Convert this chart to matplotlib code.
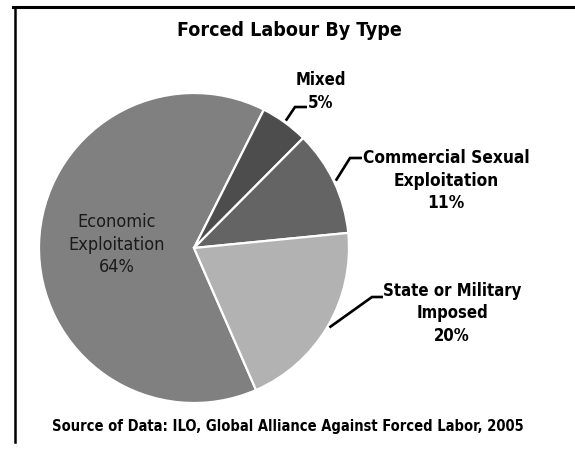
import matplotlib
matplotlib.use("Agg")
import matplotlib.pyplot as plt
from matplotlib.lines import Line2D
import numpy as np

# ---- data ----
categories = ["Economic Exploitation", "Mixed", "Commercial Sexual Exploitation", "State or Military Imposed"]
values = [64, 5, 11, 20]
label_lines = [["Economic", "Exploitation"], ["Mixed"], ["Commercial Sexual", "Exploitation"], ["State or Military", "Imposed"]]
title = "Forced Labour By Type"
source = "Source of Data: ILO, Global Alliance Against Forced Labor, 2005"

# ---- style / layout ----
colors = ["#808080", "#4d4d4d", "#646464", "#b2b2b2"]
W, H = 575, 453
FONT = "DejaVu Sans"
STRETCH = "condensed"

fig = plt.figure(figsize=(W / 100, H / 100), dpi=100)
ax = fig.add_axes([0, 0, 1, 1])

cx, cy, R = 194, H - 248, 155
wedges, _ = ax.pie(values, colors=colors, startangle=-66.4, counterclock=False,
                   center=(cx, cy), radius=R, frame=True,
                   wedgeprops=dict(edgecolor="white", linewidth=1.6))
ax.set_xlim(0, W)
ax.set_ylim(0, H)
ax.set_aspect("equal")
ax.axis("off")

# label layout: (center x, first line y in pixels from top, bold, leader elbow, leader end)
layout = [
    dict(x=117, y=222, bold=False, size=13, leader=None),
    dict(x=321, y=80, bold=True, size=12, leader=((295, 107), (307, 107))),
    dict(x=446, y=158, bold=True, size=12.4, leader=((350, 158), (362, 158))),
    dict(x=452, y=291, bold=True, size=12, leader=((372, 297), (383, 297))),
]
step = 22.5
for w, v, lines, lay in zip(wedges, values, label_lines, layout):
    txt = lines + [f"{v}%"]
    for k, s in enumerate(txt):
        ax.text(lay["x"], H - (lay["y"] + k * step), s, ha="center", va="center",
                fontsize=lay["size"], family=FONT, stretch=STRETCH,
                fontweight="bold" if lay["bold"] else "normal",
                color="black" if lay["bold"] else "#1a1a1a")
    if lay["leader"] is not None:
        mid = np.deg2rad((w.theta1 + w.theta2) / 2)
        sx, sy = cx + (R + 2) * np.cos(mid), cy + (R + 2) * np.sin(mid)
        (ex, ey), (fx, fy) = lay["leader"]
        ax.plot([sx, ex, fx], [sy, H - ey, H - fy], color="black", lw=1.9,
                solid_capstyle="butt", solid_joinstyle="miter")

ax.text(289, H - 31, title, ha="center", va="center", fontsize=14,
        family=FONT, stretch=STRETCH, fontweight="bold")
ax.text(288, H - 427, source, ha="center", va="center", fontsize=10.5,
        family=FONT, stretch=STRETCH, fontweight="bold")

# frame lines (top and left)
ax.add_line(Line2D([13, W], [H - 6.5, H - 6.5], color="black", lw=2.2))
ax.add_line(Line2D([14.5, 14.5], [H - 6.5, H - 442], color="black", lw=1.8))

fig.savefig("out.png", dpi=100)
